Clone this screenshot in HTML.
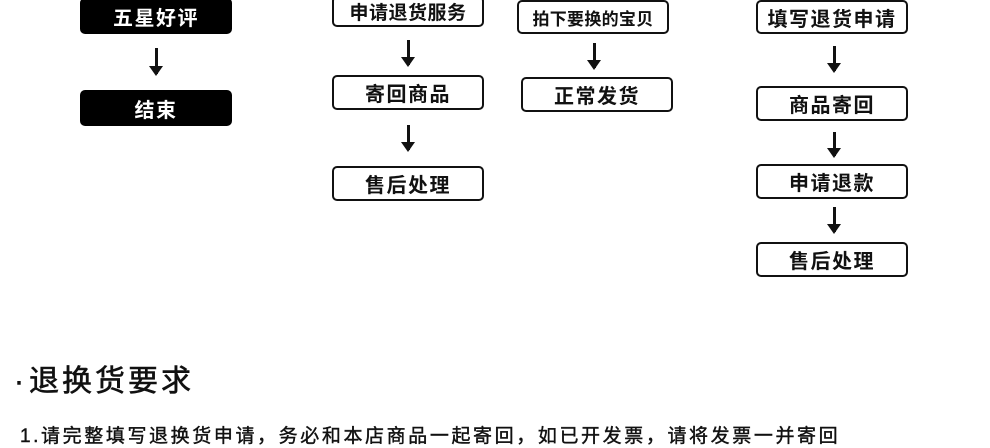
<!DOCTYPE html>
<html><head><meta charset="utf-8"><style>
body{margin:0;width:990px;height:448px;background:#fff;position:relative;overflow:hidden;font-family:"Liberation Sans","Noto Sans CJK SC",sans-serif;color:#111}
.b{position:absolute;box-sizing:border-box;border:2.5px solid #111;border-radius:5px;background:#fff;display:flex;align-items:center;justify-content:center;font-size:20px;font-weight:bold;letter-spacing:1.5px;white-space:nowrap}
.k{background:#000;color:#fff;border-color:#000}
.a{position:absolute;width:3px;background:#111}
.a:after{content:"";position:absolute;left:-6px;bottom:-2px;border-left:7.5px solid transparent;border-right:7.5px solid transparent;border-top:10px solid #111}
</style></head><body>
<div class="b k" style="left:80px;top:-2px;width:152px;height:36px">五星好评</div>
<div class="a" style="left:155px;top:48px;height:26px"></div>
<div class="b k" style="left:80px;top:90px;width:152px;height:36px">结束</div>

<div class="b" style="left:332px;top:-4px;width:152px;height:31px;font-size:19px;letter-spacing:0.5px">申请退货服务</div>
<div class="a" style="left:407px;top:40px;height:25px"></div>
<div class="b" style="left:332px;top:75px;width:152px;height:35px">寄回商品</div>
<div class="a" style="left:407px;top:125px;height:25px"></div>
<div class="b" style="left:332px;top:166px;width:152px;height:35px">售后处理</div>

<div class="b" style="left:517px;top:0px;width:152px;height:34px;font-size:17px;letter-spacing:0.3px">拍下要换的宝贝</div>
<div class="a" style="left:593px;top:43px;height:25px"></div>
<div class="b" style="left:521px;top:77px;width:152px;height:35px">正常发货</div>

<div class="b" style="left:756px;top:0px;width:152px;height:34px">填写退货申请</div>
<div class="a" style="left:833px;top:46px;height:25px"></div>
<div class="b" style="left:756px;top:86px;width:152px;height:35px">商品寄回</div>
<div class="a" style="left:833px;top:132px;height:24px"></div>
<div class="b" style="left:756px;top:164px;width:152px;height:35px">申请退款</div>
<div class="a" style="left:833px;top:207px;height:25px"></div>
<div class="b" style="left:756px;top:242px;width:152px;height:35px">售后处理</div>

<div style="position:absolute;left:14px;top:356px;font-size:30px;letter-spacing:3px;white-space:nowrap;-webkit-text-stroke:0.6px #111">·<span style="margin-left:2px">退换货要求</span></div>
<div style="position:absolute;left:20px;top:421px;font-size:19px;letter-spacing:2.6px;white-space:nowrap;-webkit-text-stroke:0.4px #111">1.请完整填写退换货申请，务必和本店商品一起寄回，如已开发票，请将发票一并寄回</div>
</body></html>
